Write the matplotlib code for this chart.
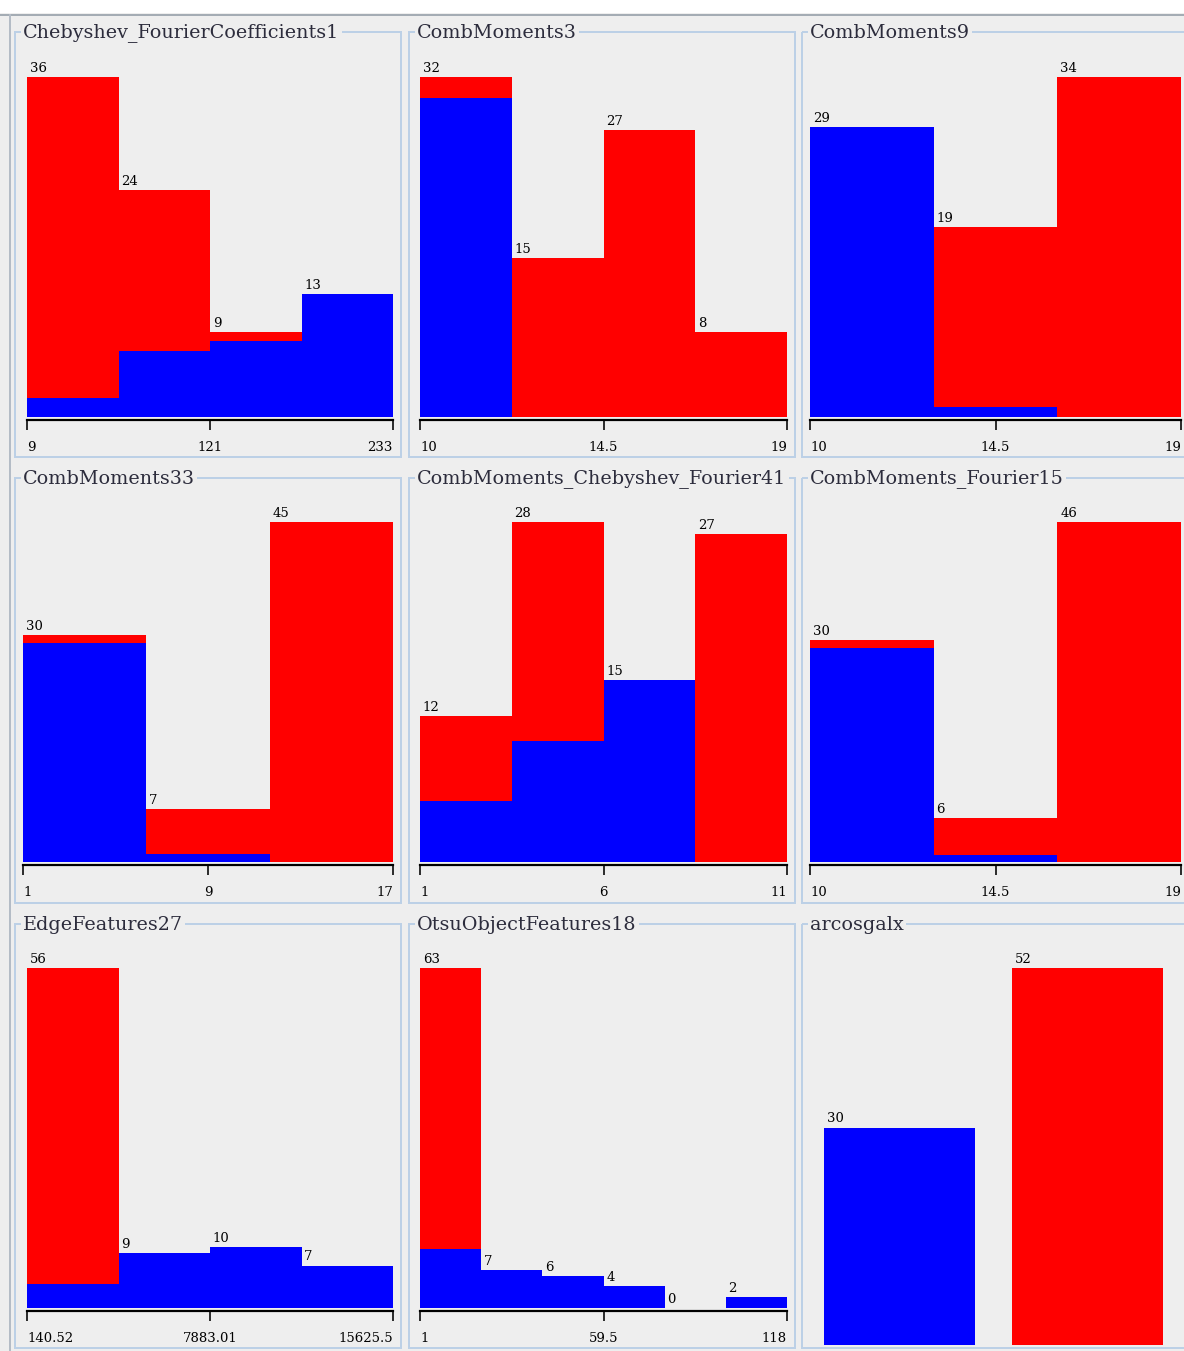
import matplotlib.pyplot as plt
from matplotlib.patches import Rectangle

# attribute histograms, class 1 in blue stacked under class 2 in red
titles = ['Chebyshev_FourierCoefficients1', 'CombMoments3', 'CombMoments9',
          'CombMoments33', 'CombMoments_Chebyshev_Fourier41', 'CombMoments_Fourier15',
          'EdgeFeatures27', 'OtsuObjectFeatures18', 'arcosgalx']
blue_counts = [[2, 7, 8, 13], [30, 0, 0, 0], [29, 1, 0],
               [29, 1, 0], [5, 10, 15, 0], [29, 1, 0],
               [4, 9, 10, 7], [11, 7, 6, 4, 0, 2], [30, 0]]
red_counts = [[34, 17, 1, 0], [2, 15, 27, 8], [0, 18, 34],
              [1, 6, 45], [7, 18, 0, 27], [1, 5, 46],
              [52, 0, 0, 0], [52, 0, 0, 0, 0, 0], [0, 52]]
tick_labels = [['9', '121', '233'], ['10', '14.5', '19'], ['10', '14.5', '19'],
               ['1', '9', '17'], ['1', '6', '11'], ['10', '14.5', '19'],
               ['140.52', '7883.01', '15625.5'], ['1', '59.5', '118'], None]

W, H = 1184, 1351
BG = '#eeeeee'
BLUE = '#0000ff'
RED = '#ff0000'
BORDER = '#bcd0e6'
PT = 72 / 100.0  # points per pixel

col_frames = [(15, 401), (409, 795), (802, 1192)]
row_frames = [(32, 457), (478, 903), (924, 1348)]
plot_x = [(27, 393), (420, 787), (810, 1181),
          (23, 393), (420, 787), (810, 1181),
          (27, 393), (420, 787), (805, 1182)]
bases = [417, 862, 1308]
bar_h = 340

fig = plt.figure(figsize=(W / 100, H / 100), dpi=100, facecolor=BG)

# window chrome and titled borders
bg = fig.add_axes([0, 0, 1, 1])
bg.set_xlim(0, W)
bg.set_ylim(H, 0)
bg.axis('off')
bg.add_patch(Rectangle((0, 0), W, 13, fc='white', ec='none'))
bg.plot([0, W], [14.5, 14.5], color='#a4acb4', lw=2 * PT)
bg.plot([10, 10], [15, H], color='#b4bcc6', lw=2 * PT)

for k, title in enumerate(titles):
    r, c = divmod(k, 3)
    cx0, cx1 = col_frames[c]
    ry0, ry1 = row_frames[r]
    bg.add_patch(Rectangle((cx0, ry0), cx1 - cx0, ry1 - ry0, fc='none',
                           ec=BORDER, lw=2 * PT))
    bg.text(cx0 + 8, ry0 + 0.5, title, fontsize=13.8, family='DejaVu Serif',
            color='#2c2c3c', ha='left', va='center',
            bbox=dict(boxstyle='square,pad=0.12', fc=BG, ec='none'))

for k in range(len(titles)):
    r, c = divmod(k, 3)
    x0, x1 = plot_x[k]
    blue = blue_counts[k]
    red = red_counts[k]
    totals = [b + rd for b, rd in zip(blue, red)]
    top = max(totals)
    base = bases[r]
    nominal = tick_labels[k] is None
    if nominal:
        base = 1345
        h = base - (bases[r] - bar_h)
    else:
        h = bar_h
    ax = fig.add_axes([x0 / W, 1 - base / H, (x1 - x0) / W, h / H])
    ax.patch.set_visible(False)
    ax.set_ylim(0, top)
    for s in ['left', 'right', 'top']:
        ax.spines[s].set_visible(False)
    ax.set_yticks([])

    n = len(totals)
    if nominal:
        pos = list(range(n))
        ax.bar(pos, blue, width=0.8, color=BLUE, lw=0)
        ax.bar(pos, red, width=0.8, bottom=blue, color=RED, lw=0)
        ax.set_xlim(-0.5, n - 0.5)
        ax.spines['bottom'].set_visible(False)
        ax.set_xticks([])
        lefts = [p - 0.4 for p in pos]
    else:
        pos = list(range(n))
        ax.bar(pos, blue, width=1, align='edge', color=BLUE, lw=0)
        ax.bar(pos, red, width=1, align='edge', bottom=blue, color=RED, lw=0)
        ax.set_xlim(0, n)
        ax.spines['bottom'].set_position(('outward', 3 * PT))
        ax.spines['bottom'].set_linewidth(2.2 * PT)
        ax.set_xticks([0, n / 2, n])
        ax.set_xticklabels(tick_labels[k], family='DejaVu Serif', fontsize=9.5)
        ax.tick_params(axis='x', length=10 * PT, width=1.6 * PT, pad=8,
                       direction='out')
        for lbl, ha in zip(ax.get_xticklabels(), ['left', 'center', 'right']):
            lbl.set_ha(ha)
        lefts = pos

    for lx, t in zip(lefts, totals):
        ax.annotate(str(t), (lx, t), xytext=(2, 1.5), textcoords='offset points',
                    ha='left', va='bottom', fontsize=9.5, family='DejaVu Serif',
                    color='black', annotation_clip=False)

fig.savefig('out.png', dpi=100, facecolor=BG)
